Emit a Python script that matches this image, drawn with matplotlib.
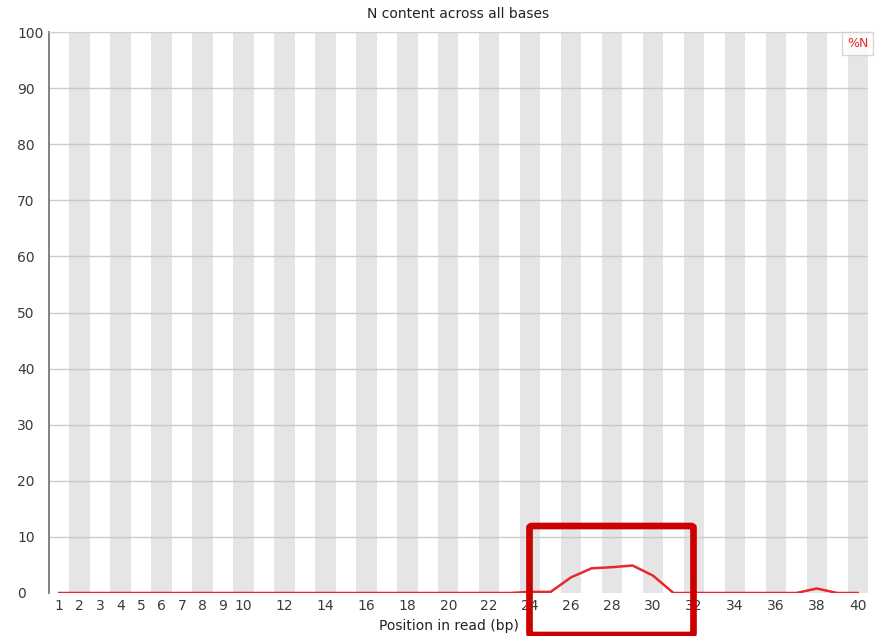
import matplotlib.pyplot as plt
from matplotlib.patches import FancyBboxPatch
import numpy as np

# %N per position in read
positions = list(range(1, 41))
n_content = [0.0] * 23 + [0.2, 0.2, 2.8, 4.4, 4.6, 4.9, 3.1, 0.0,
                          0.0, 0.0, 0.0, 0.0, 0.0, 0.0, 0.8, 0.0, 0.0]
xtick_pos = list(range(1, 11)) + list(range(12, 41, 2))
ytick_pos = list(range(0, 101, 10))

W, H = 879, 636
fig = plt.figure(figsize=(W / 100, H / 100), dpi=100)
ax = fig.add_axes([49 / W, (H - 593) / H, (868 - 49) / W, (593 - 32) / H])

# alternating bands, grey for even positions
for p in positions:
    if p % 2 == 0:
        ax.axvspan(p - 0.5, p + 0.5, color='#e5e5e5', lw=0, zorder=0)

for y in ytick_pos[1:]:
    ax.axhline(y, color='#cacaca', lw=1, zorder=1)

ax.plot(positions, n_content, color='#e8282b', lw=1.8, zorder=3, label='%N')

ax.set_xlim(0.5, 40.5)
ax.set_ylim(0, 100)
ax.set_xticks(xtick_pos)
ax.set_yticks(ytick_pos)
ax.tick_params(length=0, labelsize=10, colors='#3a3a3a')
ax.tick_params(axis='x', pad=4)
# y labels are left aligned in the original
ax.tick_params(axis='y', pad=23)
for lab in ax.get_yticklabels():
    lab.set_horizontalalignment('left')

for s in ['right', 'bottom']:
    ax.spines[s].set_visible(False)
ax.spines['top'].set_color('#d0d0d0')
ax.spines['left'].set_color('#777777')
ax.spines['left'].set_linewidth(1.3)

ax.set_title('N content across all bases', fontsize=10, color='#222222', pad=10)
ax.set_xlabel('Position in read (bp)', fontsize=10, color='#222222')
ax.xaxis.set_label_coords((448.5 - 49) / (868 - 49), -(619 - 593) / (593 - 32))

leg = ax.legend(loc='upper left', bbox_to_anchor=(842 / W, 1 - 32 / H),
                bbox_transform=fig.transFigure, handlelength=0, handletextpad=0,
                fontsize=9, borderpad=0.4, borderaxespad=0, fancybox=False,
                labelcolor='#e8282b')
leg.get_frame().set_edgecolor('#cccccc')
leg.get_frame().set_linewidth(1)
for h in leg.legend_handles:
    h.set_visible(False)

# highlight box drawn on top of the figure
box = FancyBboxPatch((529.5 / W, (H - 635) / H), (693.5 - 529.5) / W, (635 - 526) / H,
                     boxstyle='round,pad=0,rounding_size=0.003',
                     transform=fig.transFigure, fill=False,
                     edgecolor='#cc0000', lw=4.8, zorder=10)
fig.patches.append(box)

fig.savefig('out.png', dpi=100)
